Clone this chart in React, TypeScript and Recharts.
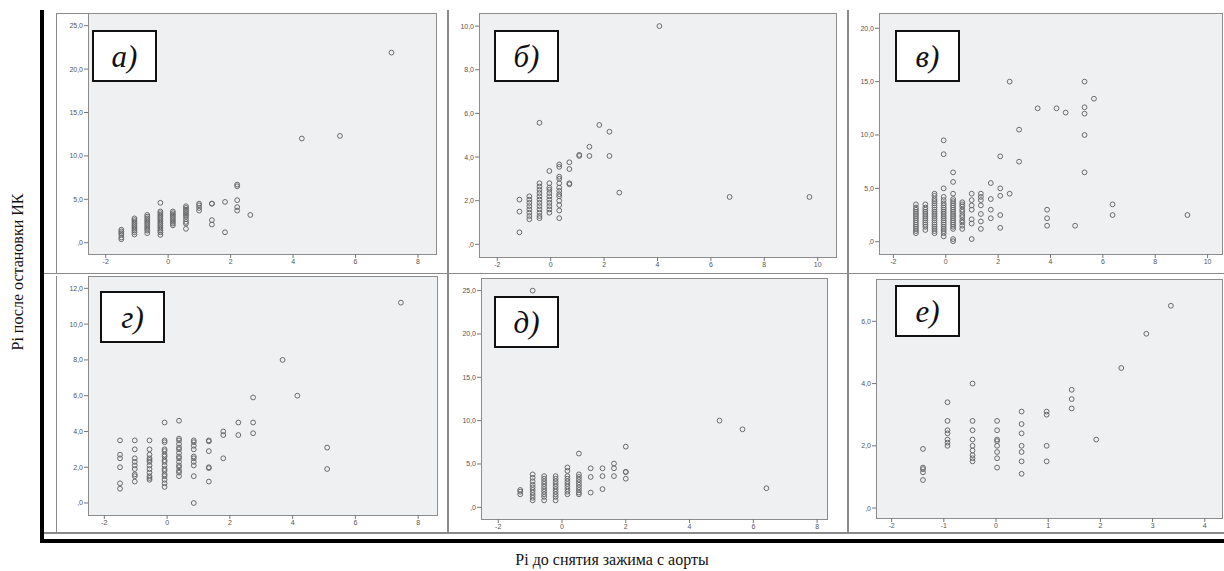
import React from 'react';
import { ScatterChart, Scatter, XAxis, YAxis } from 'recharts';

type Col = [number, number[]];

// ---- data (x value of a column, list of y values) ----
const aCols: Col[] = [
  [-1.5, [1.5, 1.3, 1.1, 0.9, 0.6, 0.4]],
  [-1.08, [2.8, 2.6, 2.4, 2.2, 2.0, 1.8, 1.6, 1.4, 1.2, 0.95]],
  [-0.67, [3.2, 3.0, 2.8, 2.6, 2.4, 2.2, 2.0, 1.8, 1.6, 1.4, 1.1]],
  [-0.25, [4.6, 3.6, 3.4, 3.2, 3.0, 2.8, 2.6, 2.4, 2.2, 2.0, 1.8, 1.6, 1.4, 1.2, 0.9]],
  [0.15, [3.6, 3.4, 3.2, 3.0, 2.8, 2.6, 2.4, 2.2, 2.0]],
  [0.57, [4.2, 4.0, 3.8, 3.6, 3.4, 3.2, 3.0, 2.7, 2.4, 2.2, 1.6]],
  [0.99, [4.5, 4.3, 4.0, 3.7]],
  [1.4, [4.5, 4.5, 2.6, 2.1]],
  [1.82, [4.7, 1.2]],
  [2.21, [6.7, 6.5, 4.9, 4.1, 3.7]],
  [2.63, [3.2]],
  [4.28, [12.0]],
  [5.5, [12.3]],
  [7.15, [21.9]],
];

const bCols: Col[] = [
  [-1.17, [2.05, 1.5, 0.55]],
  [-0.8, [2.2, 2.05, 1.9, 1.75, 1.6, 1.45, 1.3, 1.15]],
  [-0.42, [5.57, 2.8, 2.65, 2.5, 2.35, 2.2, 2.05, 1.9, 1.75, 1.6, 1.45, 1.3, 1.2]],
  [-0.05, [3.36, 2.8, 2.6, 2.5, 2.35, 2.2, 2.05, 1.9, 1.75, 1.6, 1.45]],
  [0.32, [3.66, 3.55, 3.1, 3.0, 2.8, 2.6, 2.45, 2.3, 2.2, 2.0, 1.8, 1.55, 1.2]],
  [0.7, [3.76, 3.45, 2.8, 2.75]],
  [1.07, [4.05, 4.1]],
  [1.45, [4.47, 4.05]],
  [1.82, [5.47]],
  [2.2, [5.16, 4.05]],
  [2.57, [2.37]],
  [4.07, [10.0]],
  [6.7, [2.17]],
  [9.69, [2.17]],
];

const vCols: Col[] = [
  [-1.14, [3.5, 3.2, 3.0, 2.8, 2.6, 2.4, 2.2, 2.0, 1.8, 1.6, 1.4, 1.2, 1.0, 0.8]],
  [-0.78, [3.5, 3.2, 3.0, 2.8, 2.6, 2.4, 2.2, 2.0, 1.8, 1.6, 1.4, 1.1]],
  [-0.43, [4.5, 4.3, 4.0, 3.8, 3.6, 3.4, 3.2, 3.0, 2.8, 2.6, 2.4, 2.2, 2.0, 1.8, 1.6, 1.4, 1.2, 1.0, 0.8]],
  [-0.08, [9.5, 8.2, 5.0, 4.2, 3.9, 3.6, 3.4, 3.2, 3.0, 2.8, 2.6, 2.4, 2.2, 2.0, 1.8, 1.6, 1.4, 1.2, 1.0, 0.8, 0.5]],
  [0.28, [6.5, 5.6, 4.5, 4.0, 3.8, 3.6, 3.4, 3.2, 3.0, 2.8, 2.6, 2.4, 2.2, 2.0, 1.8, 1.6, 1.4, 1.2, 0.25, 0.05]],
  [0.63, [3.7, 3.5, 3.3, 3.0, 2.8, 2.5, 2.3, 2.0, 1.8, 1.5, 1.2]],
  [0.99, [4.5, 3.9, 3.4, 3.0, 2.1, 1.7, 0.25]],
  [1.34, [4.5, 4.2, 3.9, 3.4, 2.6, 1.9, 1.2]],
  [1.72, [5.5, 4.0, 3.0, 2.2]],
  [2.08, [8.0, 5.0, 4.3, 2.5, 1.3]],
  [2.44, [15.0, 4.5]],
  [2.8, [10.5, 7.5]],
  [3.51, [12.5]],
  [3.87, [3.0, 2.2, 1.5]],
  [4.23, [12.5]],
  [4.58, [12.1]],
  [4.94, [1.5]],
  [5.3, [15.0, 12.6, 12.0, 10.0, 6.5]],
  [5.66, [13.4]],
  [6.37, [3.5, 2.5]],
  [9.23, [2.5]],
];

const gCols: Col[] = [
  [-1.5, [3.5, 2.7, 2.5, 2.0, 1.1, 0.8]],
  [-1.03, [3.5, 3.0, 2.5, 2.3, 2.1, 1.9, 1.6, 1.5, 1.2]],
  [-0.56, [3.5, 3.0, 2.7, 2.5, 2.4, 2.3, 2.1, 1.9, 1.7, 1.5, 1.4, 1.3]],
  [-0.08, [4.5, 3.5, 3.4, 3.0, 2.9, 2.7, 2.6, 2.4, 2.3, 2.1, 1.9, 1.8, 1.6, 1.5, 1.3, 1.1, 0.9]],
  [0.38, [4.6, 3.6, 3.5, 3.3, 3.1, 3.0, 2.8, 2.6, 2.5, 2.3, 2.1, 2.0, 1.8, 1.7, 1.5]],
  [0.85, [3.5, 3.4, 3.2, 3.0, 2.6, 2.5, 2.3, 2.1, 1.5, 0.0]],
  [1.33, [3.5, 3.45, 2.9, 2.0, 1.95, 1.2]],
  [1.79, [4.0, 3.8, 2.5]],
  [2.27, [4.5, 3.8]],
  [2.74, [5.9, 4.5, 3.9]],
  [3.68, [8.0]],
  [4.15, [6.0]],
  [5.1, [3.1, 1.9]],
  [7.45, [11.2]],
];

const dCols: Col[] = [
  [-1.31, [2.0, 1.8, 1.5]],
  [-0.92, [25.0, 3.8, 3.4, 3.0, 2.6, 2.3, 2.0, 1.7, 1.4, 1.1, 0.8]],
  [-0.56, [3.6, 3.3, 3.0, 2.7, 2.4, 2.1, 1.8, 1.5, 1.2, 0.8]],
  [-0.2, [3.6, 3.3, 3.0, 2.7, 2.4, 2.1, 1.8, 1.5, 1.2, 0.8]],
  [0.17, [4.6, 4.2, 3.6, 3.3, 3.0, 2.7, 2.4, 2.1, 1.8, 1.5]],
  [0.53, [6.2, 3.8, 3.5, 3.2, 2.9, 2.6, 2.3, 2.0, 1.7, 1.5]],
  [0.9, [4.5, 3.5, 1.7]],
  [1.27, [4.5, 3.6, 2.1]],
  [1.63, [5.05, 4.5, 3.6]],
  [2.0, [7.0, 4.1, 4.05, 3.3]],
  [4.94, [10.0]],
  [5.66, [9.0]],
  [6.41, [2.2]],
];

const eCols: Col[] = [
  [-1.4, [1.9, 1.3, 1.25, 1.15, 0.9]],
  [-0.93, [3.4, 2.8, 2.5, 2.4, 2.2, 2.1, 2.0]],
  [-0.45, [4.0, 2.8, 2.5, 2.2, 2.0, 1.85, 1.7, 1.6, 1.5]],
  [0.02, [2.8, 2.5, 2.2, 2.15, 2.0, 1.8, 1.6, 1.3]],
  [0.49, [3.1, 2.7, 2.4, 2.0, 1.8, 1.5, 1.1]],
  [0.97, [3.1, 3.0, 2.0, 1.5]],
  [1.45, [3.8, 3.5, 3.2]],
  [1.92, [2.2]],
  [2.4, [4.5]],
  [2.88, [5.6]],
  [3.35, [6.5]],
];

// ---- tick labels ----
const aXTicks = [-2, 0, 2, 4, 6, 8];
const aYTicks = [0, 5, 10, 15, 20, 25];
const bXTicks = [-2, 0, 2, 4, 6, 8, 10];
const bYTicks = [0, 2, 4, 6, 8, 10];
const vXTicks = [-2, 0, 2, 4, 6, 8, 10];
const vYTicks = [0, 5, 10, 15, 20];
const gXTicks = [-2, 0, 2, 4, 6, 8];
const gYTicks = [0, 2, 4, 6, 8, 10, 12];
const dXTicks = [-2, 0, 2, 4, 6, 8];
const dYTicks = [0, 5, 10, 15, 20, 25];
const eXTicks = [-2, -1, 0, 1, 2, 3, 4];
const eYTicks = [0, 2, 4, 6];

const panelLabels = ['а)', 'б)', 'в)', 'г)', 'д)', 'е)'];
const xTitle = 'Pi до снятия зажима с аорты';
const yTitle = 'Pi после остановки ИК';

// ---- layout ----
type Panel = {
  cols: Col[];
  xTicks: number[];
  yTicks: number[];
  L: number; T: number; R: number; B: number;
  xDom: [number, number];
  yDom: [number, number];
  box: [number, number];
};

const panels: Panel[] = [
  { cols: aCols, xTicks: aXTicks, yTicks: aYTicks, L: 88, T: 13, R: 436, B: 254, xDom: [-2.567, 8.576], yDom: [-1.3, 26.46], box: [92, 30] },
  { cols: bCols, xTicks: bXTicks, yTicks: bYTicks, L: 479, T: 13, R: 836, B: 257, xDom: [-2.685, 10.685], yDom: [-0.58, 10.6], box: [494, 30] },
  { cols: vCols, xTicks: vXTicks, yTicks: vYTicks, L: 879, T: 13, R: 1222, B: 254, xDom: [-2.55, 10.55], yDom: [-1.15, 21.43], box: [895, 30] },
  { cols: gCols, xTicks: gXTicks, yTicks: gYTicks, L: 88, T: 276, R: 437, B: 515, xDom: [-2.52, 8.6], yDom: [-0.67, 12.69], box: [100, 291] },
  { cols: dCols, xTicks: dXTicks, yTicks: dYTicks, L: 481, T: 278, R: 827, B: 519, xDom: [-2.54, 8.31], yDom: [-1.35, 26.46], box: [494, 296] },
  { cols: eCols, xTicks: eXTicks, yTicks: eYTicks, L: 876, T: 279, R: 1222, B: 518, xDom: [-2.3, 4.33], yDom: [-0.32, 7.36], box: [895, 285] },
];

const flatten = (cols: Col[]) => cols.flatMap(([x, ys]) => ys.map((y) => ({ x, y })));
const fmtY = (v: number) => (v === 0 ? ',0' : v.toFixed(1).replace('.', ','));

const YW = 40;
const XH = 20;
const tickStyle = { fontSize: 7, fill: '#555555', fontFamily: '"Liberation Sans", Arial, sans-serif' };

const Dot = (p: any) => (
  <circle cx={p.cx} cy={p.cy} r={2.4} fill="none" stroke="#6a6a6a" strokeWidth={1} />
);

const line = (left: number, top: number, width: number, height: number, color = '#8a8a8a') => (
  <div style={{ position: 'absolute', left, top, width, height, background: color }} />
);

function PanelView({ p, label }: { p: Panel; label: string }) {
  const data = flatten(p.cols);
  const w = p.R - p.L;
  const h = p.B - p.T;
  return (
    <>
      <div
        style={{
          position: 'absolute', left: p.L, top: p.T, width: w + 1, height: h + 1,
          background: '#eff0f2', border: '1px solid #8c8c8c', boxSizing: 'border-box',
        }}
      />
      <div style={{ position: 'absolute', left: p.L - YW, top: p.T }}>
        <ScatterChart width={w + YW} height={h + XH} margin={{ top: 0, right: 0, bottom: 0, left: 0 }}>
          <XAxis
            type="number" dataKey="x" domain={p.xDom} ticks={p.xTicks} allowDataOverflow
            interval={0} height={XH} axisLine={false} tickSize={4} tickMargin={1}
            tickLine={{ stroke: '#777' }} tick={tickStyle}
          />
          <YAxis
            type="number" dataKey="y" domain={p.yDom} ticks={p.yTicks} allowDataOverflow
            interval={0} width={YW} axisLine={false} tickSize={4} tickMargin={1}
            tickLine={{ stroke: '#777' }} tick={tickStyle} tickFormatter={fmtY}
          />
          <Scatter data={data} shape={Dot} isAnimationActive={false} />
        </ScatterChart>
      </div>
      <div
        style={{
          position: 'absolute', left: p.box[0], top: p.box[1], width: 65, height: 52,
          background: '#fff', border: '2px solid #111', boxSizing: 'border-box',
          display: 'flex', alignItems: 'center', justifyContent: 'center',
          fontFamily: '"Liberation Serif", "Times New Roman", serif', fontStyle: 'italic',
          fontSize: 31, color: '#111', lineHeight: 1,
        }}
      >
        {label}
      </div>
    </>
  );
}

export default function App() {
  return (
    <div style={{ position: 'absolute', left: 0, top: 0, width: 1224, height: 571, background: '#fff', overflow: 'hidden' }}>
      {/* cell grid */}
      {line(447, 10, 1.5, 523)}
      {line(847, 10, 1.5, 523)}
      {line(43, 272.5, 1181, 1.5)}
      {line(43, 532, 1181, 1.5)}
      {/* left column frames */}
      {line(56, 13, 1, 260)}
      {line(56, 13, 380, 1)}
      {line(56, 276, 1, 257)}
      {panels.map((p, i) => (
        <PanelView key={i} p={p} label={panelLabels[i]} />
      ))}
      {/* thick black L axis */}
      {line(40, 10, 3.5, 533, '#000')}
      {line(40, 539, 1184, 4, '#000')}
      {/* axis titles */}
      <div
        style={{
          position: 'absolute', left: 0, top: 551, width: 1224, textAlign: 'center',
          fontFamily: '"Liberation Serif", "Times New Roman", serif', fontSize: 16, color: '#111',
        }}
      >
        {xTitle}
      </div>
      <div
        style={{
          position: 'absolute', left: 18, top: 272, transform: 'translate(-50%, -50%) rotate(-90deg)',
          whiteSpace: 'nowrap', fontFamily: '"Liberation Serif", "Times New Roman", serif',
          fontSize: 16, color: '#111',
        }}
      >
        {yTitle}
      </div>
    </div>
  );
}
